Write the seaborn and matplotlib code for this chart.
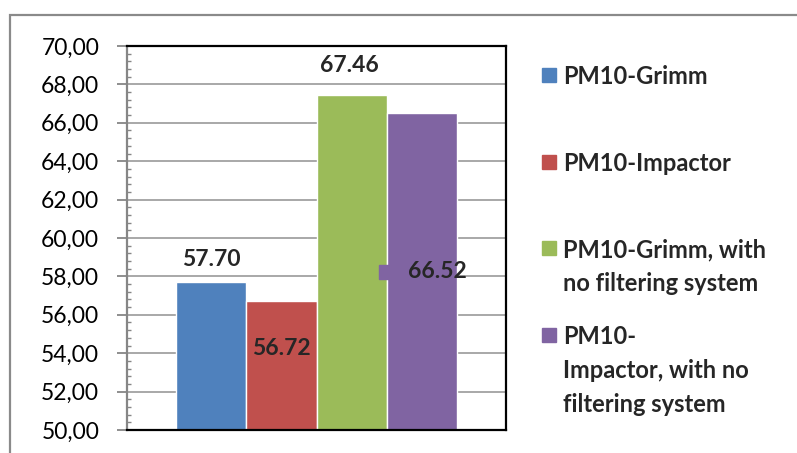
import matplotlib
matplotlib.use("Agg")
import matplotlib.pyplot as plt
import matplotlib.ticker as mticker
from matplotlib.patches import Rectangle
import pandas as pd
import seaborn as sns

# Data
series = ["PM10-Grimm", "PM10-Impactor",
          "PM10-Grimm, with\nno filtering system",
          "PM10-\nImpactor, with no\nfiltering system"]
values = [57.70, 56.72, 67.46, 66.52]
colors = ["#4F81BD", "#C0504D", "#9BBB59", "#8064A2"]

# where each value label sits (data y) and x shift in px from bar centre
label_y = [58.9, 54.22, 69.01, 58.25]
label_dx = [0, 0, -2, 16]

sns.set_theme(style="white")
plt.rcParams["font.family"] = ["Lato", "DejaVu Sans"]

df = pd.DataFrame({"grp": [""] * 4, "value": values, "series": series})

fig = plt.figure(figsize=(7.97, 4.53), dpi=100)
ax = fig.add_axes([127 / 797, 23 / 453, (506 - 127) / 797, (430 - 46) / 453])

sns.barplot(data=df, x="grp", y="value", hue="series", palette=colors,
            width=0.8, saturation=1, legend=False, ax=ax, zorder=3)

ax.set_xlim(-0.54, 0.54)
ax.set_ylim(50, 70)
ax.set_xlabel("")
ax.set_ylabel("")
ax.set_xticks([])
ax.yaxis.set_major_locator(mticker.MultipleLocator(2))
ax.yaxis.set_minor_locator(mticker.MultipleLocator(0.4))
ax.yaxis.set_major_formatter(mticker.FuncFormatter(lambda v, p: f"{v:.2f}".replace(".", ",")))
ax.tick_params(axis="y", which="major", direction="out", length=7, width=1.3,
               color="#868686", pad=13, labelsize=16.5, labelcolor="black", left=True)
ax.tick_params(axis="y", which="minor", direction="in", length=3, width=1.0,
               color="#868686", left=True)
ax.grid(axis="y", which="major", color="#9A9A9A", linewidth=1.2, zorder=0)
ax.set_axisbelow(True)

for side in ["top", "right", "bottom"]:
    ax.spines[side].set_color("black")
    ax.spines[side].set_linewidth(1.6)
    ax.spines[side].set_zorder(4)
ax.spines["left"].set_color("#868686")
ax.spines["left"].set_linewidth(1.6)

# value labels
bars = sorted(ax.patches, key=lambda b: b.get_x())
for bar, val, ly, dx in zip(bars, values, label_y, label_dx):
    cx = bar.get_x() + bar.get_width() / 2
    ax.annotate(f"{val:.2f}", (cx, ly), xytext=(dx * 0.72, 0), textcoords="offset points",
                ha="center", va="center", fontsize=16.5, fontweight="bold", zorder=6)

# legend key shown next to the last label
last = bars[-1]
ax.plot([last.get_x() - 0.001], [label_y[-1]], marker="s", markersize=10,
        color=colors[-1], zorder=5, clip_on=False)

# legend drawn as figure text
leg_top = [75, 162, 248, 335]
for lab, col, yt in zip(series, colors, leg_top):
    fig.patches.append(Rectangle((542 / 797, (453 - yt - 7) / 453), 14 / 797, 14 / 453,
                                 transform=fig.transFigure, color=col, figure=fig))
    fig.text(563 / 797, (453 - yt + 10) / 453, lab, ha="left", va="top",
             fontsize=17, fontweight="bold", linespacing=1.58,
             transform=fig.transFigure)

# outer chart frame
fig.patches.append(Rectangle((10 / 797, -0.1), 1.2, (453 - 15) / 453 + 0.1,
                             transform=fig.transFigure, fill=False,
                             edgecolor="#8A8A8A", linewidth=1.6, figure=fig))

fig.savefig("out.png", dpi=100)
